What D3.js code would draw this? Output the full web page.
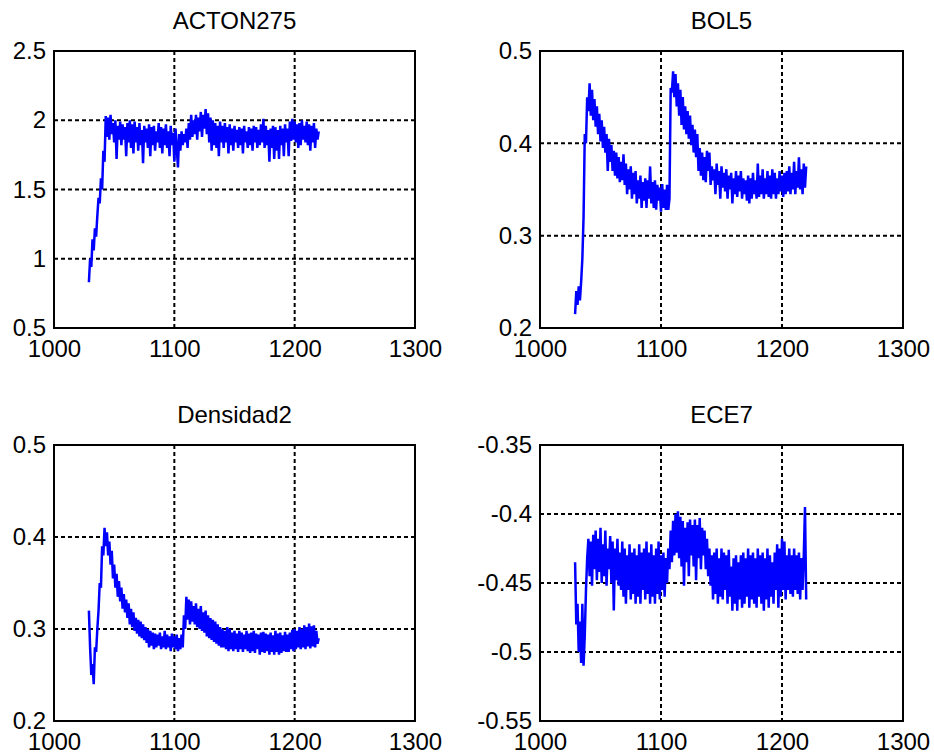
<!DOCTYPE html>
<html>
<head>
<meta charset="utf-8">
<script src="https://cdn.jsdelivr.net/npm/d3@7"></script>
<style>
  body { margin: 0; background: #fff; }
  svg { display: block; }
  text { font-family: "Liberation Sans", Arial, sans-serif; fill: #000; }
</style>
</head>
<body>
<div id="chart"></div>
<script>
// first sample index, one sample per unit
const xStart = 1029;

const xTicks = [1000, 1100, 1200, 1300];

const actonValues = [
  0.83, 1.00, 0.94, 1.14, 1.06, 1.22, 1.16, 1.31, 1.44, 1.40, 1.58, 1.50, 1.78, 1.70, 2.03,
  1.88, 2.02, 1.86, 2.04, 1.90, 1.98, 1.84, 2.00, 1.72, 1.96,
  1.86, 1.99, 1.82, 1.97, 1.86, 1.95, 1.74, 1.98, 1.84, 2.00,
  1.80, 1.97, 1.76, 1.99, 1.84, 1.95, 1.78, 1.98, 1.82, 1.93,
  1.69, 1.96, 1.84, 1.94, 1.80, 1.97, 1.74, 1.95, 1.82, 1.96,
  1.78, 1.92, 1.84, 1.98, 1.80, 1.95, 1.76, 1.94, 1.82, 1.97,
  1.80, 1.92, 1.74, 1.96, 1.82, 1.91, 1.70, 1.94, 1.80, 1.66,
  1.90, 1.78, 1.92, 1.82, 1.90, 1.84, 1.94, 1.80, 1.98, 1.86,
  2.04, 1.88, 2.00, 1.90, 2.04, 1.86, 2.02, 1.92, 2.06, 1.88,
  2.04, 1.94, 2.08, 1.90, 2.05, 1.84, 2.02, 1.78, 2.00, 1.82,
  1.98, 1.80, 1.96, 1.74, 1.99, 1.84, 1.96, 1.80, 1.98, 1.84,
  1.95, 1.76, 1.97, 1.82, 1.94, 1.78, 1.96, 1.84, 1.93, 1.80,
  1.95, 1.82, 1.94, 1.76, 1.96, 1.84, 1.92, 1.80, 1.95, 1.82,
  1.94, 1.78, 1.96, 1.84, 1.95, 1.80, 1.93, 1.82, 1.97, 1.84,
  2.01, 1.80, 1.96, 1.82, 1.93, 1.70, 1.94, 1.80, 1.96, 1.72,
  1.95, 1.78, 1.93, 1.72, 1.96, 1.82, 1.94, 1.74, 1.97, 1.84,
  1.94, 1.74, 1.99, 1.85, 2.01, 1.86, 1.99, 1.84, 1.97, 1.80,
  1.98, 1.82, 2.00, 1.86, 1.96, 1.84, 1.99, 1.82, 1.97, 1.78,
  1.96, 1.84, 1.98, 1.80, 1.94, 1.86, 1.92
];

const bolValues = [
  0.215, 0.24, 0.225, 0.245, 0.23, 0.25, 0.275, 0.32, 0.41, 0.40, 0.45, 0.435, 0.465, 0.43, 0.458,
  0.425, 0.448, 0.418, 0.44, 0.41, 0.432, 0.402, 0.425, 0.395, 0.418,
  0.39, 0.41, 0.37, 0.405, 0.38, 0.398, 0.37, 0.392, 0.365, 0.39,
  0.362, 0.385, 0.358, 0.38, 0.36, 0.388, 0.355, 0.378, 0.345, 0.372,
  0.35, 0.375, 0.34, 0.368, 0.345, 0.37, 0.335, 0.36, 0.34, 0.365,
  0.33, 0.358, 0.338, 0.362, 0.33, 0.36, 0.34, 0.375, 0.335, 0.358,
  0.33, 0.36, 0.328, 0.355, 0.338, 0.352, 0.326, 0.356, 0.33, 0.35,
  0.328, 0.355, 0.328, 0.34,
  0.46, 0.455, 0.478, 0.45, 0.475, 0.44,
  0.465, 0.43, 0.458, 0.42, 0.45, 0.415, 0.44, 0.41, 0.435, 0.405,
  0.43, 0.398, 0.42, 0.39, 0.415, 0.385, 0.41, 0.37, 0.395, 0.365,
  0.39, 0.36, 0.385, 0.358, 0.392, 0.37, 0.39, 0.355, 0.375, 0.36,
  0.372, 0.345, 0.378, 0.355, 0.37, 0.34, 0.375, 0.352, 0.368, 0.348,
  0.372, 0.34, 0.365, 0.35, 0.368, 0.335, 0.362, 0.345, 0.37, 0.342,
  0.365, 0.348, 0.37, 0.34, 0.362, 0.345, 0.36, 0.338, 0.365, 0.335,
  0.362, 0.34, 0.368, 0.345, 0.36, 0.34, 0.378, 0.342, 0.365, 0.345,
  0.372, 0.34, 0.362, 0.345, 0.37, 0.342, 0.365, 0.34, 0.372, 0.345,
  0.368, 0.34, 0.362, 0.345, 0.37, 0.348, 0.365, 0.342, 0.368, 0.345,
  0.37, 0.348, 0.375, 0.345, 0.368, 0.35, 0.38, 0.345, 0.37, 0.352,
  0.385, 0.35, 0.372, 0.345, 0.378, 0.352, 0.375
];

const densidadValues = [
  0.32, 0.28, 0.25, 0.262, 0.24, 0.28, 0.275, 0.30, 0.32, 0.35, 0.345, 0.39, 0.38, 0.41, 0.39,
  0.405, 0.38, 0.395, 0.37, 0.385, 0.355, 0.37, 0.345, 0.36, 0.335,
  0.352, 0.33, 0.345, 0.322, 0.338, 0.318, 0.332, 0.312, 0.328, 0.305,
  0.322, 0.302, 0.318, 0.298, 0.312, 0.295, 0.31, 0.292, 0.308, 0.29,
  0.305, 0.288, 0.302, 0.285, 0.30, 0.28, 0.298, 0.282, 0.296, 0.278,
  0.295, 0.28, 0.294, 0.282, 0.296, 0.278, 0.292, 0.28, 0.298, 0.278,
  0.294, 0.28, 0.292, 0.276, 0.295, 0.28, 0.292, 0.278, 0.294, 0.276,
  0.29, 0.278, 0.294, 0.28,
  0.315, 0.30, 0.335, 0.31, 0.332, 0.305,
  0.33, 0.308, 0.325, 0.305, 0.328, 0.302, 0.322, 0.30, 0.325, 0.298,
  0.318, 0.296, 0.32, 0.292, 0.315, 0.29, 0.312, 0.288, 0.31, 0.286,
  0.308, 0.284, 0.305, 0.282, 0.302, 0.28, 0.30, 0.28, 0.298, 0.278,
  0.302, 0.276, 0.30, 0.278, 0.296, 0.276, 0.298, 0.278, 0.295, 0.275,
  0.298, 0.278, 0.296, 0.275, 0.294, 0.278, 0.298, 0.276, 0.295, 0.274,
  0.296, 0.276, 0.298, 0.274, 0.295, 0.278, 0.294, 0.272, 0.296, 0.275,
  0.297, 0.274, 0.295, 0.276, 0.294, 0.272, 0.296, 0.275, 0.293, 0.272,
  0.298, 0.275, 0.295, 0.272, 0.296, 0.274, 0.293, 0.276, 0.297, 0.275,
  0.294, 0.275, 0.296, 0.278, 0.299, 0.276, 0.30, 0.278, 0.298, 0.28,
  0.302, 0.278, 0.30, 0.28, 0.304, 0.278, 0.302, 0.281, 0.306, 0.279,
  0.303, 0.281, 0.304, 0.28, 0.298, 0.284, 0.29
];

const eceValues = [
  -0.435, -0.48, -0.465, -0.50, -0.478, -0.508, -0.465, -0.51, -0.488, -0.455, -0.432,
  -0.418, -0.445, -0.42, -0.452, -0.415, -0.44, -0.412, -0.448, -0.418, -0.442,
  -0.41, -0.45, -0.422, -0.445, -0.412, -0.452, -0.425, -0.44, -0.416, -0.45,
  -0.42, -0.47, -0.425, -0.448, -0.418, -0.452, -0.428, -0.455, -0.42, -0.46,
  -0.425, -0.465, -0.43, -0.455, -0.422, -0.462, -0.428, -0.458, -0.425, -0.465,
  -0.43, -0.46, -0.422, -0.465, -0.428, -0.455, -0.425, -0.462, -0.42, -0.458,
  -0.428, -0.465, -0.422, -0.46, -0.43, -0.465, -0.425, -0.458, -0.42, -0.462,
  -0.43, -0.455, -0.428, -0.46, -0.432, -0.45, -0.425, -0.44,
  -0.412, -0.435, -0.405, -0.43, -0.40, -0.428, -0.398, -0.432, -0.402, -0.438,
  -0.405, -0.452, -0.41, -0.435, -0.406, -0.445, -0.404, -0.43, -0.408, -0.438,
  -0.404, -0.448, -0.408, -0.432, -0.403, -0.44, -0.41, -0.43, -0.412, -0.44,
  -0.418, -0.445, -0.425, -0.452, -0.43, -0.462, -0.428, -0.458, -0.425, -0.465,
  -0.432, -0.46, -0.425, -0.462, -0.428, -0.455, -0.43, -0.465, -0.426, -0.46,
  -0.438, -0.47, -0.432, -0.465, -0.43, -0.47, -0.435, -0.462, -0.43, -0.468,
  -0.428, -0.465, -0.432, -0.46, -0.425, -0.468, -0.43, -0.462, -0.428, -0.465,
  -0.432, -0.468, -0.425, -0.46, -0.43, -0.465, -0.428, -0.47, -0.432, -0.462,
  -0.425, -0.468, -0.43, -0.46, -0.435, -0.465, -0.428, -0.455, -0.422, -0.468,
  -0.425, -0.46, -0.418, -0.455, -0.42, -0.462, -0.43, -0.455, -0.425, -0.458,
  -0.43, -0.46, -0.425, -0.455, -0.43, -0.458, -0.428, -0.462, -0.432, -0.455,
  -0.43, -0.395, -0.462
];

const titles = ['ACTON275', 'BOL5', 'Densidad2', 'ECE7'];
const yDomains = [[0.5, 2.5], [0.2, 0.5], [0.2, 0.5], [-0.55, -0.35]];
const yTickSets = [
  [0.5, 1, 1.5, 2, 2.5],
  [0.2, 0.3, 0.4, 0.5],
  [0.2, 0.3, 0.4, 0.5],
  [-0.55, -0.5, -0.45, -0.4, -0.35]
];
const seriesList = [actonValues, bolValues, densidadValues, eceValues];

const width = 934, height = 753;
const fontSize = 24;
// axes boxes [left, top, right, bottom]
const boxes = [
  [54, 51, 415, 328],
  [540, 51, 903, 328],
  [54, 445, 415, 721],
  [540, 445, 903, 721]
];

const svg = d3.select('#chart').append('svg')
  .attr('width', width)
  .attr('height', height);

boxes.forEach((b, i) => {
  const [l, t, r, bt] = b;
  const x = d3.scaleLinear().domain([1000, 1300]).range([l, r]);
  const y = d3.scaleLinear().domain(yDomains[i]).range([bt, t]);
  const g = svg.append('g');

  // dotted grid at the inner ticks
  g.selectAll('.vgrid')
    .data(xTicks.slice(1, -1))
    .enter().append('line')
    .attr('x1', d => x(d)).attr('x2', d => x(d))
    .attr('y1', t).attr('y2', bt)
    .attr('stroke', '#000').attr('stroke-width', 2)
    .attr('stroke-dasharray', '4,3');
  g.selectAll('.hgrid')
    .data(yTickSets[i].slice(1, -1))
    .enter().append('line')
    .attr('x1', l).attr('x2', r)
    .attr('y1', d => y(d)).attr('y2', d => y(d))
    .attr('stroke', '#000').attr('stroke-width', 2)
    .attr('stroke-dasharray', '4,3');

  const line = d3.line()
    .x((d, k) => x(xStart + k))
    .y(d => y(d));
  g.append('path')
    .datum(seriesList[i])
    .attr('d', line)
    .attr('fill', 'none')
    .attr('stroke', '#0000ff')
    .attr('stroke-width', 2.5);

  // tick labels only (ticks hidden under the grid)
  const axL = g.append('g').attr('transform', `translate(${l},0)`)
    .call(d3.axisLeft(y).tickValues(yTickSets[i]).tickSize(0).tickPadding(8).tickFormat(d => String(d)));
  const axB = g.append('g').attr('transform', `translate(0,${bt})`)
    .call(d3.axisBottom(x).tickValues(xTicks).tickSize(0).tickPadding(12).tickFormat(d3.format('d')));
  [axL, axB].forEach(a => {
    a.select('.domain').remove();
    a.selectAll('line').remove();
    a.selectAll('text').attr('font-size', fontSize).attr('fill', '#000')
      .style('font-family', '"Liberation Sans", Arial, sans-serif');
  });

  g.append('rect')
    .attr('x', l).attr('y', t)
    .attr('width', r - l).attr('height', bt - t)
    .attr('fill', 'none').attr('stroke', '#000').attr('stroke-width', 2);

  g.append('text')
    .attr('x', (l + r) / 2)
    .attr('y', t - 22)
    .attr('text-anchor', 'middle')
    .attr('font-size', fontSize)
    .text(titles[i]);
});
</script>
</body>
</html>
